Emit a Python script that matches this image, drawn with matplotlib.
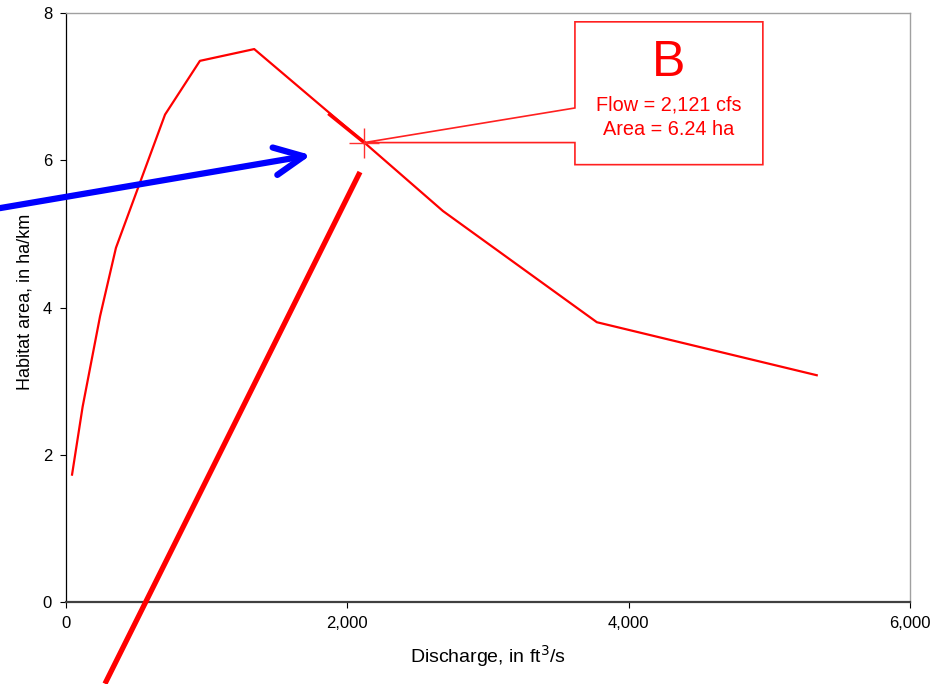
import matplotlib
matplotlib.use("Agg")
import matplotlib.pyplot as plt
from matplotlib.patches import Polygon

plt.rcParams['font.family'] = ['Liberation Sans Narrow', 'Liberation Sans', 'DejaVu Sans']

# Habitat curve
discharge = [43, 118, 242, 355, 704, 952, 1338, 2121, 2680, 3774, 5337]
habitat = [1.73, 2.65, 3.88, 4.81, 6.62, 7.35, 7.51, 6.24, 5.31, 3.80, 3.08]

# Highlighted point B
point_flow = 2121
point_area = 6.24
point_label = "B"
point_line1 = "Flow = 2,121 cfs"
point_line2 = "Area = 6.24 ha"

x_ticks = [0, 2000, 4000, 6000]
x_tick_labels = ["0", "2,000", "4,000", "6,000"]
y_ticks = [0, 2, 4, 6, 8]

# Decorations (data coords)
blue_arrow_start = (-469, 5.35)
blue_arrow_end = (1741, 6.07)
red_line_x = [277, 2090]
red_line_y = [-1.11, 5.84]
box_x = [3618, 4954]
box_y = [5.94, 7.88]
callout_top_y = 6.71

fig = plt.figure(figsize=(9.43, 6.84), dpi=100)
ax = fig.add_axes([66/943, 1-602/684, (910-66)/943, (602-13)/684])

ax.plot(discharge, habitat, color='#ff0000', lw=1.6, zorder=3)
ax.plot([1875, 2121], [6.62, 6.24], color='#ff0000', lw=2.6, zorder=3)

ax.set_xlim(0, 6000)
ax.set_ylim(0, 8)
ax.set_xticks(x_ticks)
ax.set_xticklabels(x_tick_labels)
ax.set_yticks(y_ticks)
ax.tick_params(direction='out', length=4, width=0.8, labelsize=12, colors='black', pad=6)

for s in ['top', 'right']:
    ax.spines[s].set_color('#a0a0a0')
    ax.spines[s].set_linewidth(1.0)
ax.spines['left'].set_color('black')
ax.spines['left'].set_linewidth(0.9)
ax.spines['bottom'].set_color('#404040')
ax.spines['bottom'].set_linewidth(1.6)

ax.set_xlabel("Discharge, in ft$^3$/s", fontsize=14, labelpad=9)
ax.set_ylabel("Habitat area, in ha/km", fontsize=13)
ax.yaxis.set_label_coords(-0.038, 0.510)

# Callout box
poly = Polygon([
    (box_x[0], box_y[1]), (box_x[1], box_y[1]), (box_x[1], box_y[0]),
    (box_x[0], box_y[0]), (box_x[0], point_area), (point_flow, point_area),
    (box_x[0], callout_top_y)], closed=True, facecolor='white',
    edgecolor='#ff2020', lw=1.2, zorder=4)
ax.add_patch(poly)
cx = (box_x[0] + box_x[1]) / 2
ax.text(cx, 7.147, point_label, color='#ff0000', fontsize=36,
        ha='center', va='baseline', zorder=5)
ax.text(cx, 6.68, point_line1, color='#ff0000', fontsize=14.3,
        ha='center', va='baseline', zorder=5)
ax.text(cx, 6.34, point_line2, color='#ff0000', fontsize=14.3,
        ha='center', va='baseline', zorder=5)

ax.plot([point_flow], [point_area], marker='+', color='#ff3030', ms=22,
        mew=1.0, zorder=6)

# Blue arrow
ax.annotate("", xy=blue_arrow_end, xytext=blue_arrow_start,
            xycoords='data', textcoords='data', annotation_clip=False,
            arrowprops=dict(arrowstyle='->,head_length=2.1,head_width=1.0',
                            color='#0000ff', lw=4.5, shrinkA=0, shrinkB=0,
                            capstyle='round', joinstyle='round'),
            zorder=7)

# Red thick line
ax.plot(red_line_x, red_line_y, color='#ff0000', lw=3.8, clip_on=False,
        solid_capstyle='butt', zorder=7)

fig.savefig("out.png", dpi=100)
